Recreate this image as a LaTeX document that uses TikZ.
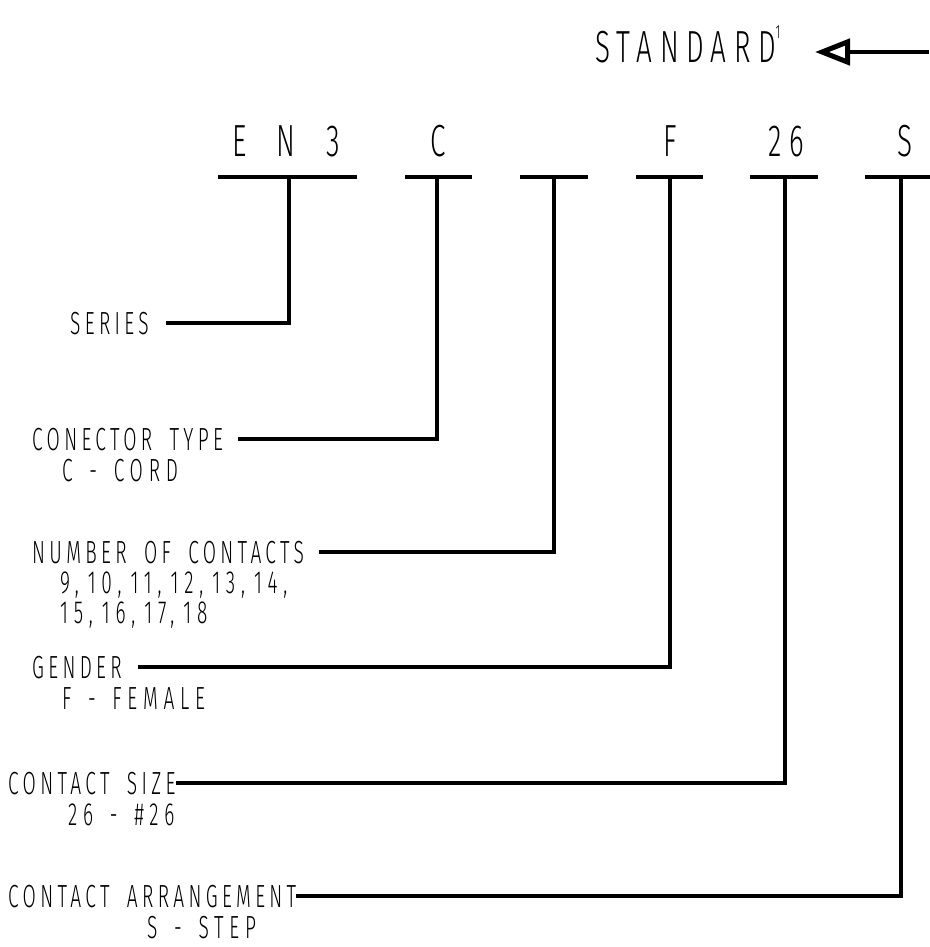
\documentclass[tikz,border=0pt]{standalone}
\usepackage{fontspec}
\newfontfamily\cadfont{Fira Sans}[UprightFont=* Light, FakeStretch=0.6, LetterSpace=13.5, WordSpace=1.8]
\newfontfamily\cadsub{Fira Sans}[UprightFont=* Light, FakeStretch=0.6, LetterSpace=18, WordSpace=1.5]
\newfontfamily\cadbig{Fira Sans}[UprightFont=* Light, FakeStretch=0.62, LetterSpace=16.5, WordSpace=2]
\usetikzlibrary{arrows.meta}
\newcommand{\nsep}{,\kern9pt}

\begin{document}
\begin{tikzpicture}[x=1pt,y=-1pt]
\tikzstyle{every node}+=[inner sep=0pt]
\tikzstyle{lbl}=[anchor=base west,font=\cadfont\fontsize{32}{33}\selectfont]
\tikzstyle{sublbl}=[anchor=base west,font=\cadsub\fontsize{32}{33}\selectfont]
\tikzstyle{code}=[anchor=base,font=\cadbig\fontsize{45}{46}\selectfont]
\tikzstyle{bar}=[line width=4pt]
\tikzstyle{leader}=[line width=3.5pt]
\useasboundingbox (0,0) rectangle (929,947);
% standard mark and arrow
\node [code,anchor=base west] (standard) at (595,63) {STANDARD\raisebox{24pt}{\fontsize{19}{19}\selectfont 1}};
\coordinate (stdtail) at (929,52);
\coordinate (stdtip) at (815,52);
\draw [line width=3.5pt,-{Triangle[open,length=35pt,width=26pt,line width=5pt]}] (stdtail) -- (stdtip);
% part number fields
\node [code] (en3) at (286,157) {E N 3};
\node [code] (ctype) at (438,157) {C};
\node [code] (fem) at (670,157) {F};
\node [code] (csize) at (786,157) {26};
\node [code] (carr) at (905,157) {S};
\draw [bar] (218,177) -- (357,177);
\draw [bar] (405,177) -- (472,177);
\draw [bar] (520,177) -- (588,177);
\draw [bar] (636,177) -- (703,177);
\draw [bar] (750,177) -- (818,177);
\draw [bar] (865,177) -- (935,177);
\coordinate (t1) at (289,177);
\coordinate (t2) at (437,177);
\coordinate (t3) at (554,177);
\coordinate (t4) at (670,177);
\coordinate (t5) at (785,177);
\coordinate (t6) at (901,177);
% legends
\node [lbl] (series) at (70,334) {SERIES};
\node [lbl] (contype) at (32,450) {CONECTOR TYPE};
\node [sublbl] (cord) at (62,481) {C - CORD};
\node [lbl] (numcon) at (32,563) {NUMBER OF CONTACTS};
\node [sublbl] (nums) at (60,593) {9\nsep10\nsep11\nsep12\nsep13\nsep14,};
\node [sublbl] (numsb) at (60,623) {15\nsep16\nsep17\nsep18};
\node [lbl] (gender) at (32,678) {GENDER};
\node [sublbl] (female) at (62,709) {F - FEMALE};
\node [lbl] (consize) at (8,794) {CONTACT SIZE};
\node [sublbl] (sz26) at (68,825) {26 - \#26};
\node [lbl] (conarr) at (8,907) {CONTACT ARRANGEMENT};
\node [sublbl] (stp) at (147,938) {S - STEP};
% leaders
\draw [leader,shorten <=17pt] (series.east) -- (series.east -| t1) -- (t1);
\draw [leader,shorten <=15pt] (contype.east) -- (contype.east -| t2) -- (t2);
\draw [leader,shorten <=15pt] (numcon.east) -- (numcon.east -| t3) -- (t3);
\draw [leader,shorten <=16pt] (gender.east) -- (gender.east -| t4) -- (t4);
\draw [leader] (consize.east) -- (consize.east -| t5) -- (t5);
\draw [leader] (conarr.east) -- (conarr.east -| t6) -- (t6);
\end{tikzpicture}
\end{document}
